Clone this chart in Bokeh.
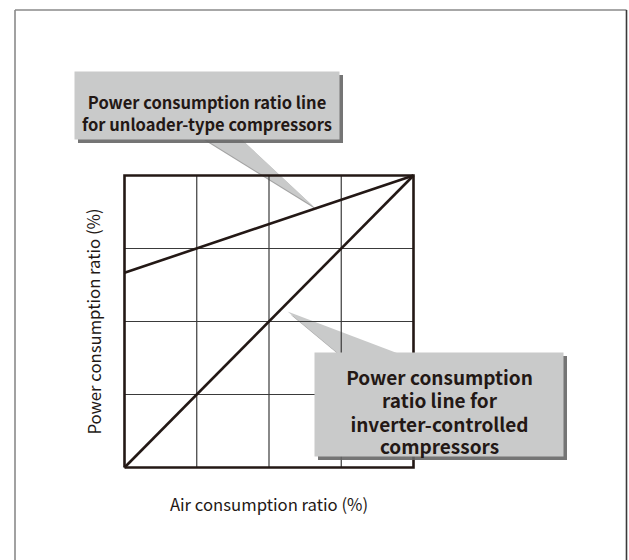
from bokeh.plotting import figure
from bokeh.models import Range1d
from bokeh.core.properties import value
from bokeh.embed import file_html
from bokeh.resources import INLINE

# ---- data ----
air_ratio = [0, 100]
unloader_power = [66.7, 100]
inverter_power = [0, 100]
grid_ticks = [0, 25, 50, 75, 100]
x_label = "Air consumption ratio (%)"
y_label = "Power consumption ratio (%)"
callout_unloader = ["Power consumption ratio line", "for unloader-type compressors"]
callout_inverter = ["Power consumption", "ratio line for", "inverter-controlled", "compressors"]

# ---- layout ----
W, H = 629, 560
SX, SY = 2.89, 2.92          # px per data unit
OX, OY = 124, 467            # canvas px of data origin
FONT = "Noto Sans CJK JP"
INK = "#231815"
BOX = "#c9caca"
SHADOW = "#666666"


def px(x):
    return (x - OX) / SX


def py(y):
    return (OY - y) / SY


p = figure(width=W, height=H, output_backend="svg", toolbar_location=None,
           x_range=Range1d(-OX / SX, (W - OX) / SX),
           y_range=Range1d(-(H - OY) / SY, OY / SY),
           x_axis_type=None, y_axis_type=None,
           min_border=0, outline_line_color=None)
p.grid.visible = False
p.background_fill_color = "white"
p.border_fill_color = "white"

# outer frame
p.segment(x0=[px(14.5), px(14.5)], y0=[py(9.5), py(9.5)],
          x1=[px(14.5), px(626)], y1=[py(600), py(9.5)],
          line_color="#8a8a8a", line_width=1.6)
p.segment(x0=[px(626)], y0=[py(9.5)], x1=[px(626)], y1=[py(600)],
          line_color="#3a3a3a", line_width=1.6)

dx, dy = 3.5 / SX, -3.5 / SY

# pointers (under the chart lines)
ptr1_x = [px(200), px(313), px(238)]
ptr1_y = [py(136), py(206), py(136)]
ptr2_x = [px(340), px(287), px(403)]
ptr2_y = [py(355), py(311), py(355)]
p.patches([[v + dx for v in ptr1_x], [v + dx for v in ptr2_x]],
          [[v + dy for v in ptr1_y], [v + dy for v in ptr2_y]],
          fill_color=SHADOW, fill_alpha=0.6, line_color=None)
p.patches([ptr1_x, ptr2_x], [ptr1_y, ptr2_y], fill_color=BOX, line_color=None)

# grid
inner = grid_ticks[1:-1]
p.segment(x0=inner, y0=[grid_ticks[0]] * len(inner), x1=inner, y1=[grid_ticks[-1]] * len(inner),
          line_color="#3a3a3a", line_width=1.2)
p.segment(x0=[grid_ticks[0]] * len(inner), y0=inner, x1=[grid_ticks[-1]] * len(inner), y1=inner,
          line_color="#3a3a3a", line_width=1.2)
# frame of the chart
lo, hi = grid_ticks[0], grid_ticks[-1]
p.line([lo, hi, hi, lo, lo], [lo, lo, hi, hi, lo], line_color=INK, line_width=2.6,
       line_join="miter")

# data lines
p.line(air_ratio, unloader_power, line_color=INK, line_width=2.6)
p.line(air_ratio, inverter_power, line_color=INK, line_width=2.6)

# callout boxes with shadow
b1 = (px(74), px(339), py(71), py(139))
b2 = (px(314), px(563), py(352), py(456))
p.quad(left=[b1[0] + dx, b2[0] + dx], right=[b1[1] + dx, b2[1] + dx],
       top=[b1[2] + dy, b2[2] + dy], bottom=[b1[3] + dy, b2[3] + dy],
       fill_color=SHADOW, fill_alpha=0.9, line_color=None)
p.quad(left=[b1[0], b2[0]], right=[b1[1], b2[1]], top=[b1[2], b2[2]], bottom=[b1[3], b2[3]],
       fill_color=BOX, line_color=None)

# callout texts
p.text(x=[px(206.5)] * len(callout_unloader),
       y=[py(101), py(123)], text=callout_unloader,
       text_font=value(FONT), text_font_style="bold", text_font_size="16.5px",
       text_color=INK, text_align="center", text_baseline="alphabetic")
p.text(x=[px(439)] * len(callout_inverter),
       y=[py(376), py(399), py(422.5), py(444.5)], text=callout_inverter,
       text_font=value(FONT), text_font_style="bold", text_font_size="19px",
       text_color=INK, text_align="center", text_baseline="alphabetic")

# axis labels
p.text(x=[(lo + hi) / 2], y=[py(503)], text=[x_label],
       text_font=value(FONT), text_font_size="16.7px", text_color=INK,
       text_align="center", text_baseline="alphabetic")
p.text(x=[px(93)], y=[(lo + hi) / 2], text=[y_label], angle=1.5708,
       text_font=value(FONT), text_font_size="16.7px", text_color=INK,
       text_align="center", text_baseline="alphabetic")

open("out.html", "w").write(file_html(p, INLINE))
